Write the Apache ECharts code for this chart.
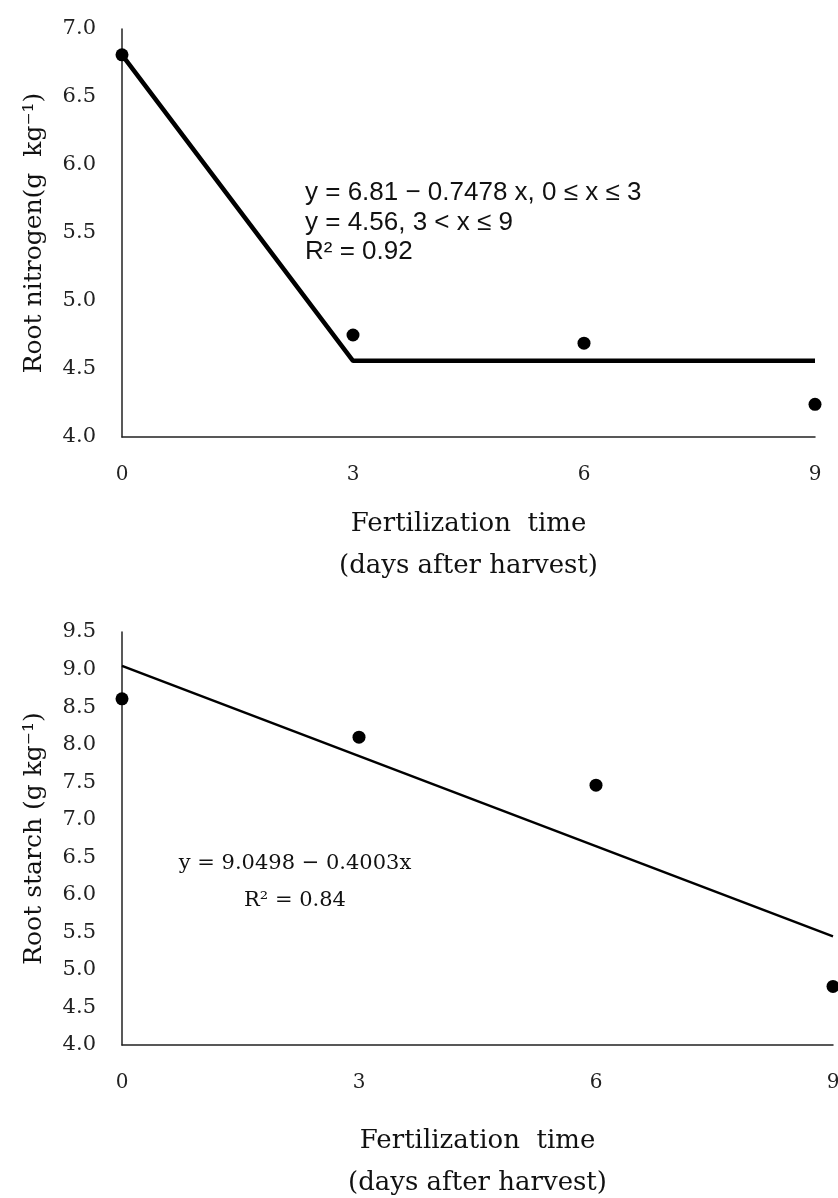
<!DOCTYPE html>
<html>
<head>
<meta charset="utf-8">
<script src="https://cdn.jsdelivr.net/npm/echarts@6/dist/echarts.min.js"></script>
<style>
html, body { margin: 0; padding: 0; background: #fff; }
#main { width: 838px; height: 1198px; }
</style>
</head>
<body>
<div id="main"></div>
<script>
// fertilization time (days after harvest)
var days = [0, 3, 6, 9];
// observed means
var rootNitrogen = [6.81, 4.75, 4.69, 4.24];
var rootStarch = [8.61, 8.10, 7.46, 4.78];
// fitted models
var nitrogenFitX = [0, 3, 9];
var nitrogenFitY = [6.81, 4.56, 4.56];
var starchFitX = [0, 9];
var starchFitY = [9.0498, 5.447];

var serif = '"DejaVu Serif", "Liberation Serif", serif';
var sans = '"Liberation Sans", Arial, sans-serif';

function pairs(xs, ys) {
    return xs.map(function (x, i) { return [x, ys[i]]; });
}

var myChart = echarts.init(document.getElementById('main'));

function xAx(idx, gap) {
    return {
        type: 'value', gridIndex: idx, min: 0, max: 9, interval: 3,
        name: 'Fertilization  time\n(days after harvest)',
        nameLocation: 'middle', nameGap: gap,
        nameTextStyle: { fontFamily: serif, fontSize: 26, color: '#111', lineHeight: 42 },
        axisLine: { show: true, lineStyle: { color: '#222', width: 1.5 } },
        axisTick: { show: false },
        splitLine: { show: false },
        axisLabel: { fontFamily: serif, fontSize: 20, color: '#222', margin: 28 }
    };
}

function yAx(idx, name, min, max) {
    return {
        type: 'value', gridIndex: idx, min: min, max: max, interval: 0.5,
        name: name, nameLocation: 'middle', nameGap: 75,
        nameTextStyle: { fontFamily: serif, fontSize: 25, color: '#111' },
        axisLine: { show: true, lineStyle: { color: '#222', width: 1.5 } },
        axisTick: { show: false },
        splitLine: { show: false },
        axisLabel: {
            fontFamily: serif, fontSize: 21, color: '#222', margin: 26,
            formatter: function (v) { return v.toFixed(1); }
        }
    };
}

option = {
    animation: false,
    grid: [
        { left: 122, right: 23, top: 29, height: 408, outerBoundsMode: 'none', containLabel: false },
        { left: 122, right: 5, top: 632, height: 413, outerBoundsMode: 'none', containLabel: false }
    ],
    xAxis: [xAx(0, 66), xAx(1, 75)],
    yAxis: [
        yAx(0, 'Root nitrogen(g  kg⁻¹)', 4, 7),
        yAx(1, 'Root starch (g kg⁻¹)', 4, 9.5)
    ],
    series: [
        {
            type: 'line', xAxisIndex: 0, yAxisIndex: 0,
            data: pairs(nitrogenFitX, nitrogenFitY),
            showSymbol: false, lineStyle: { color: '#000', width: 4.5 }
        },
        {
            type: 'scatter', xAxisIndex: 0, yAxisIndex: 0,
            data: pairs(days, rootNitrogen),
            symbolSize: 13, itemStyle: { color: '#000', opacity: 1 }
        },
        {
            type: 'line', xAxisIndex: 1, yAxisIndex: 1,
            data: pairs(starchFitX, starchFitY),
            showSymbol: false, lineStyle: { color: '#000', width: 2.5 }
        },
        {
            type: 'scatter', xAxisIndex: 1, yAxisIndex: 1,
            data: pairs(days, rootStarch),
            symbolSize: 13, itemStyle: { color: '#000', opacity: 1 }
        }
    ],
    graphic: [
        { type: 'text', left: 305, top: 180, style: { text: 'y = 6.81 − 0.7478 x, 0 ≤ x ≤ 3', font: '26px ' + sans, fill: '#111' } },
        { type: 'text', left: 305, top: 210, style: { text: 'y = 4.56, 3 < x ≤ 9', font: '26px ' + sans, fill: '#111' } },
        { type: 'text', left: 305, top: 239, style: { text: 'R² = 0.92', font: '26px ' + sans, fill: '#111' } },
        { type: 'text', x: 295, y: 864, style: { text: 'y = 9.0498 − 0.4003x', font: '21px ' + serif, fill: '#111', align: 'center', verticalAlign: 'middle' } },
        { type: 'text', x: 295, y: 901, style: { text: 'R² = 0.84', font: '21px ' + serif, fill: '#111', align: 'center', verticalAlign: 'middle' } }
    ]
};

myChart.setOption(option);
</script>
</body>
</html>
